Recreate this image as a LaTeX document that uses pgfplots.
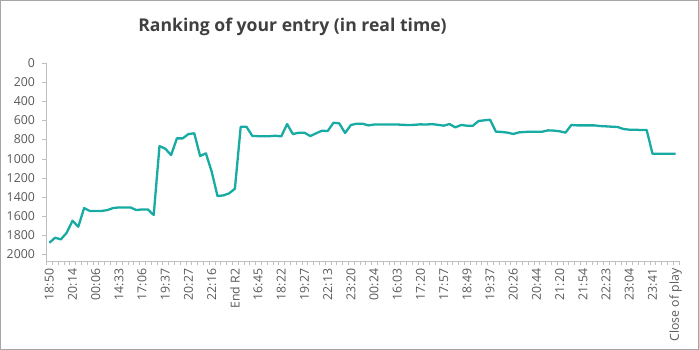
\documentclass[border=0pt]{standalone}
\usepackage{pgfplots}
\pgfplotsset{compat=1.18}
\usepackage{fontspec}
\setmainfont{Open Sans}
\definecolor{lineteal}{HTML}{17ABA3}
\definecolor{axisgray}{HTML}{BFBFBF}
\definecolor{labelgray}{HTML}{595959}
\definecolor{titlegray}{HTML}{404040}
\definecolor{framegray}{HTML}{A6A6A6}
\begin{document}
\begin{tikzpicture}[x=1pt,y=1pt]
\useasboundingbox (0,0) rectangle (699,350);
\draw[framegray, line width=1pt] (0.5,0.5) rectangle (698.5,349.5);
\node[font=\fontsize{17.6}{17.6}\selectfont\bfseries, text=titlegray] at (292.5,323) {Ranking of your entry (in real time)};
\begin{axis}[
  name=ax,
  at={(46.4pt,88.8pt)}, anchor=south west,
  scale only axis, width=632.2pt, height=197.9pt,
  xmin=-0.5, xmax=108.5,
  ymin=0, ymax=2075, y dir=reverse,
  axis line style={draw=none},
  ytick={0,200,...,2000},
  xtick={0,4,...,108},
  xticklabels={18:50,20:14,00:06,14:33,17:06,19:37,20:27,22:16,End R2,16:45,18:22,19:27,22:13,23:20,00:24,16:03,17:20,17:57,18:49,19:37,20:26,20:44,21:20,21:54,22:23,23:04,23:41,Close of play},
  minor xtick={-0.5,0.5,...,108.5},
  xtick pos=lower, ytick pos=left,
  tick align=outside,
  major tick length=4pt, minor tick length=3.5pt,
  x tick style={draw=none},
  minor x tick style={draw=axisgray},
  y tick style={draw=axisgray},
  /pgf/number format/assume math mode=true,
  /pgf/number format/1000 sep={},
  tick label style={font=\fontsize{12.3}{12.3}\selectfont, text=labelgray},
  yticklabel style={xshift=-4pt},
  xticklabel style={rotate=90, anchor=east},
  grid=none,
  clip=false,
]
\addplot[lineteal, line width=2.3pt, line join=round] coordinates {
(0,1882)(1,1829)(2,1846)(3,1777)(4,1651)(5,1714)(6,1518)(7,1549)(8,1549)(9,1549)
(10,1539)(11,1518)(12,1511)(13,1511)(14,1511)(15,1539)(16,1532)(17,1532)(18,1591)(19,868)
(20,896)(21,962)(22,787)(23,787)(24,742)(25,734)(26,972)(27,944)(28,1137)(29,1392)
(30,1385)(31,1364)(32,1315)(33,666)(34,666)(35,761)(36,764)(37,764)(38,764)(39,760)
(40,766)(41,637)(42,742)(43,728)(44,728)(45,763)(46,734)(47,707)(48,710)(49,623)
(50,630)(51,731)(52,647)(53,633)(54,633)(55,651)(56,642)(57,642)(58,642)(59,642)
(60,642)(61,645)(62,648)(63,645)(64,640)(65,642)(66,638)(67,645)(68,654)(69,637)
(70,672)(71,647)(72,654)(73,656)(74,605)(75,598)(76,592)(77,717)(78,720)(79,727)
(80,741)(81,724)(82,720)(83,717)(84,717)(85,717)(86,703)(87,706)(88,713)(89,727)
(90,647)(91,651)(92,651)(93,651)(94,651)(95,658)(96,661)(97,665)(98,668)(99,689)
(100,696)(101,696)(102,700)(103,700)(104,948)(105,948)(106,948)(107,948)(108,948)
};
\end{axis}
\draw[axisgray, line width=0.9pt] (ax.south west) -- (ax.north west);
\draw[axisgray, line width=0.9pt] (ax.south west) -- (ax.south east);
\end{tikzpicture}
\end{document}
